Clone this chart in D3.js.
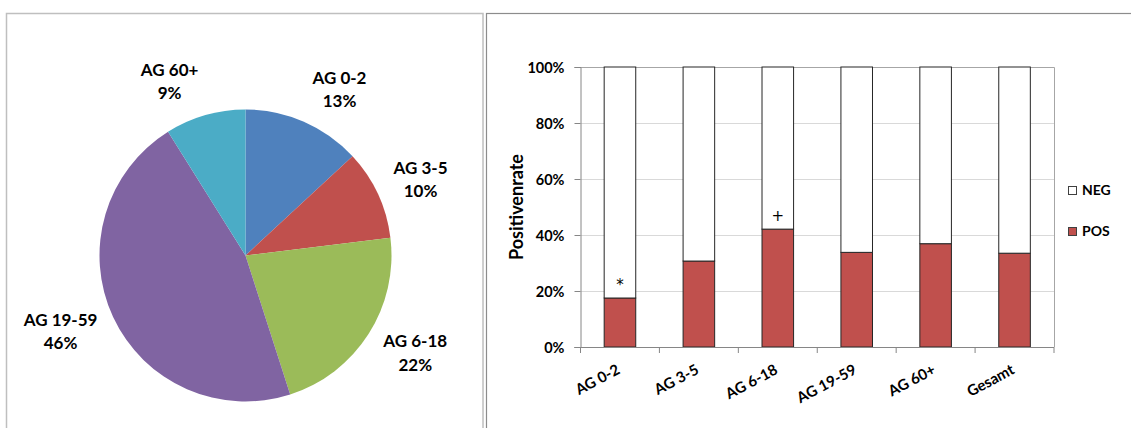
<!DOCTYPE html>
<html>
<head>
<meta charset="utf-8">
<script src="https://cdn.jsdelivr.net/npm/d3@7/dist/d3.min.js"></script>
<style>
  html, body { margin: 0; padding: 0; background: #fff; }
  svg { display: block; }
  text { font-family: Lato, "Open Sans", sans-serif; }
</style>
</head>
<body>
<svg id="chart" width="1131" height="428"></svg>
<script>
// ---------- data ----------
const pieCategories = ["AG 0-2", "AG 3-5", "AG 6-18", "AG 19-59", "AG 60+"];
const pieValues = [13.1, 9.95, 22.0, 46.05, 8.9];
const pieColors = ["#4F81BD", "#C0504D", "#9BBB59", "#8064A2", "#4BACC6"];

const barCategories = ["AG 0-2", "AG 3-5", "AG 6-18", "AG 19-59", "AG 60+", "Gesamt"];
const posValues = [0.175, 0.307, 0.421, 0.338, 0.369, 0.335];
const negValues = posValues.map(v => 1 - v);
const barMarkers = ["*", "", "+", "", "", ""];
const yTicks = [0, 0.2, 0.4, 0.6, 0.8, 1.0];
const seriesNames = ["NEG", "POS"];
const seriesColors = ["#FFFFFF", "#C0504D"];

(function () {
const svg = d3.select("#chart");

// ---------- panels ----------
svg.append("rect").attr("x", 6.5).attr("y", 13.5).attr("width", 476.5).attr("height", 430)
  .attr("fill", "#fff").attr("stroke", "#BFBFBF").attr("stroke-width", 1.5);
svg.append("rect").attr("x", 486.5).attr("y", 13.5).attr("width", 660).attr("height", 430)
  .attr("fill", "#fff").attr("stroke", "#8C8C8C").attr("stroke-width", 1.2);

// ---------- pie ----------
const cx = 245.5, cy = 255.5, R = 146;
const pie = d3.pie().sort(null).value(d => d.value);
const arc = d3.arc().innerRadius(0).outerRadius(R);
const pieData = pie(pieCategories.map((c, i) => ({ cat: c, value: pieValues[i], color: pieColors[i] })));
const total = d3.sum(pieValues);

const gPie = svg.append("g").attr("transform", `translate(${cx},${cy})`);
gPie.selectAll("path").data(pieData).join("path")
  .attr("d", arc).attr("fill", d => d.data.color);

const pieLabels = gPie.selectAll("g.lbl").data(pieData).join("g").attr("class", "lbl");
pieLabels.each(function(d) {
  const g = d3.select(this);
  const t1 = g.append("text").attr("text-anchor", "middle").attr("font-weight", "bold")
    .attr("font-size", 17).attr("fill", "#000").text(d.data.cat);
  const t2 = g.append("text").attr("text-anchor", "middle").attr("font-weight", "bold")
    .attr("font-size", 17).attr("fill", "#000").text(Math.round(d.data.value / total * 100) + "%");
  const w = Math.max(t1.node().getComputedTextLength(), t2.node().getComputedTextLength());
  const th = (d.startAngle + d.endAngle) / 2;
  const ax = (R + 14) * Math.sin(th), ay = -(R + 14) * Math.cos(th);
  const lx = ax + Math.sign(Math.sin(th)) * (w / 2 + 3);
  const ly = ay - Math.cos(th) * 21;
  t1.attr("x", lx).attr("y", ly - 11.7 + 6);
  t2.attr("x", lx).attr("y", ly + 11.7 + 6);
});

// ---------- bar chart ----------
const pLeft = 580.5, pRight = 1054, pTop = 67, pBottom = 347;
const x = d3.scaleBand().domain(barCategories).range([pLeft, pRight]).paddingInner(0.6).paddingOuter(0.3);
const y = d3.scaleLinear().domain([0, 1]).range([pBottom, pTop]);

const gBar = svg.append("g");
// gridlines
gBar.selectAll("line.grid").data(yTicks.filter(t => t > 0 && t < 1)).join("line")
  .attr("x1", pLeft).attr("x2", pRight).attr("y1", d => y(d) + 0.5).attr("y2", d => y(d) + 0.5)
  .attr("stroke", "#D9D9D9").attr("stroke-width", 1);
// plot border (top + right)
gBar.append("path")
  .attr("d", `M${pLeft},${y(1) + 0.5}H${pRight + 0.5}V${pBottom}`)
  .attr("fill", "none").attr("stroke", "#A6A6A6").attr("stroke-width", 1);

// stacked bars
const stackData = barCategories.map((c, i) => ({ cat: c, POS: posValues[i], NEG: negValues[i] }));
const stack = d3.stack().keys(["POS", "NEG"]);
const layers = stack(stackData);
const colorOf = { POS: seriesColors[1], NEG: seriesColors[0] };
gBar.selectAll("g.layer").data(layers).join("g").attr("class", "layer")
  .attr("fill", d => colorOf[d.key])
  .selectAll("rect").data(d => d).join("rect")
  .attr("x", d => x(d.data.cat))
  .attr("width", x.bandwidth())
  .attr("y", d => y(d[1]))
  .attr("height", d => y(d[0]) - y(d[1]))
  .attr("stroke", "#262626").attr("stroke-width", 1);

// markers
gBar.selectAll("text.mark").data(barCategories.map((c, i) => ({ cat: c, m: barMarkers[i], v: posValues[i] })))
  .join("text").attr("class", "mark")
  .attr("x", d => x(d.cat) + x.bandwidth() / 2)
  .attr("y", d => y(d.v) - 8.5)
  .attr("text-anchor", "middle").attr("font-size", 15).attr("fill", "#000")
  .style("font-family", "'DejaVu Sans', sans-serif")
  .text(d => d.m);

// y axis
const yAxis = d3.axisLeft(y).tickValues(yTicks).tickFormat(d3.format(".0%")).tickSize(6).tickPadding(10);
const gy = svg.append("g").attr("transform", `translate(${pLeft},0)`).call(yAxis);
gy.select(".domain").attr("stroke", "#868686");
gy.selectAll(".tick line").attr("stroke", "#868686");
gy.selectAll(".tick text").attr("font-size", 14.5).attr("font-weight", "bold").attr("fill", "#000")
  .style("font-family", "Lato, sans-serif").attr("dy", "0.36em");

// x axis
const gx = svg.append("g").attr("transform", `translate(0,${pBottom})`);
gx.append("line").attr("x1", pLeft - 6).attr("x2", pRight).attr("y1", 0.5).attr("y2", 0.5).attr("stroke", "#868686");
const boundaries = barCategories.map(c => x(c) - x.step() * x.paddingInner() / 2).concat([pRight]);
gx.selectAll("line.tk").data(boundaries).join("line").attr("class", "tk")
  .attr("x1", d => d).attr("x2", d => d).attr("y1", 0).attr("y2", 6).attr("stroke", "#868686");
gx.selectAll("text.xl").data(barCategories).join("text").attr("class", "xl")
  .attr("transform", d => `translate(${x(d) + x.bandwidth() / 2 + 1},26) rotate(-28)`)
  .attr("text-anchor", "end").attr("font-size", 15).attr("font-weight", "bold").attr("fill", "#000")
  .text(d => d);

// y title
svg.append("text")
  .attr("transform", `translate(523,${(pTop + pBottom) / 2}) rotate(-90)`)
  .attr("text-anchor", "middle").attr("font-size", 18).attr("font-weight", "bold").attr("fill", "#000")
  .text("Positivenrate");

// legend
const leg = svg.append("g").selectAll("g").data(seriesNames).join("g")
  .attr("transform", (d, i) => `translate(1068,${186 + i * 41})`);
leg.append("rect").attr("x", 0.5).attr("y", 0.5).attr("width", 8).attr("height", 8)
  .attr("fill", (d, i) => seriesColors[i]).attr("stroke", "#404040").attr("stroke-width", 1);
leg.append("text").attr("x", 14).attr("y", 9).attr("font-size", 14).attr("font-weight", "bold")
  .attr("fill", "#000").text(d => d);
})();
</script>
</body>
</html>
